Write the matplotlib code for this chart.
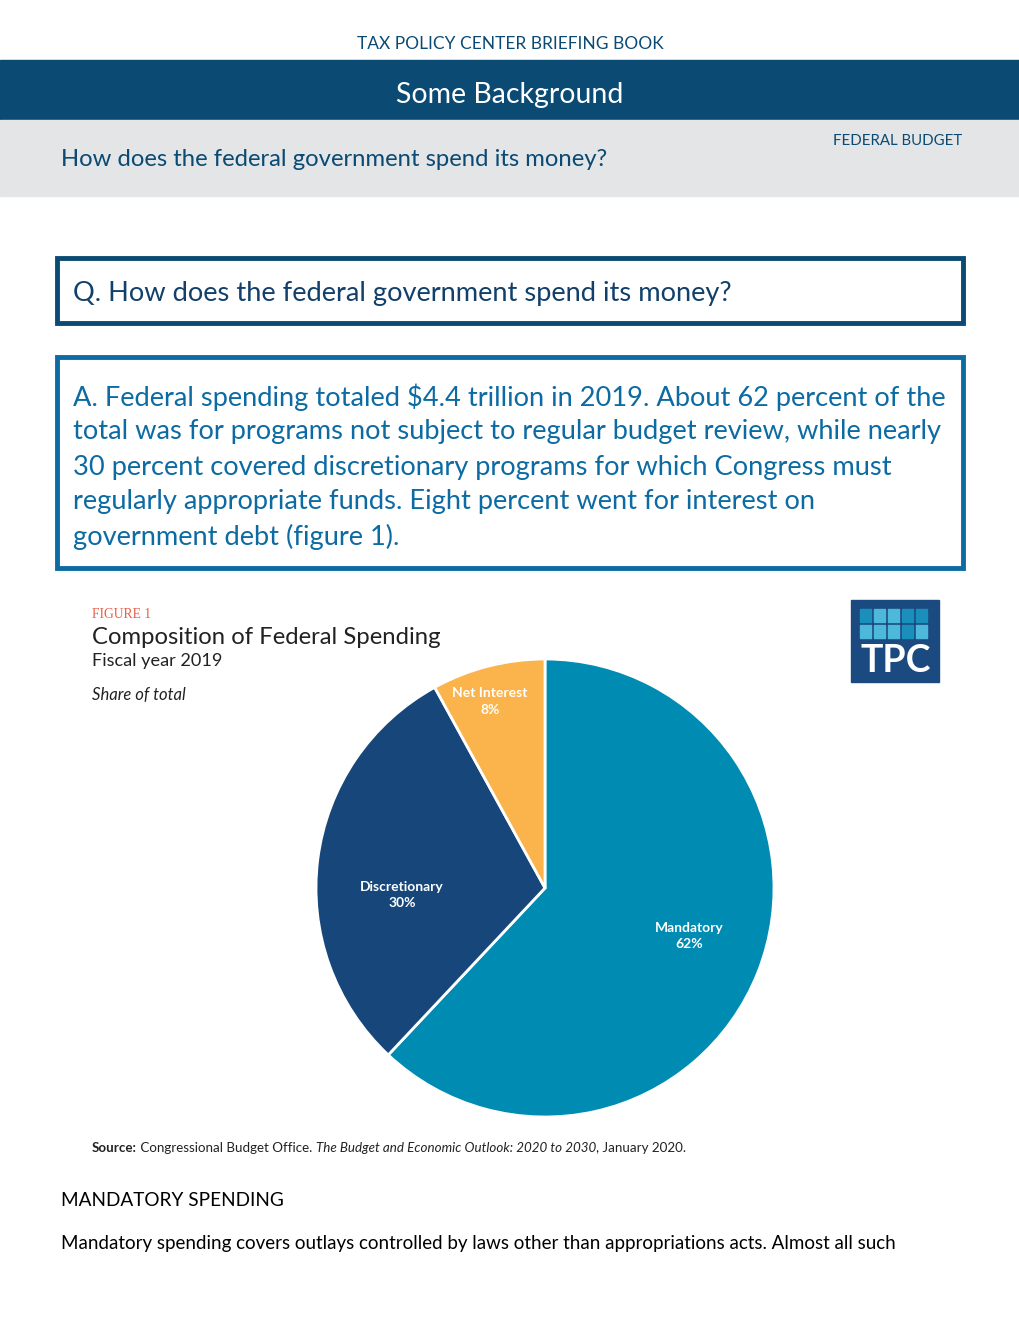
import matplotlib.pyplot as plt
from matplotlib.patches import Rectangle

# chart data
categories = ['Mandatory', 'Discretionary', 'Net Interest']
shares = [62, 30, 8]
colors = ['#008bb2', '#17477a', '#fbb34b']

answer_lines = [
    'A. Federal spending totaled $4.4 trillion in 2019. About 62 percent of the',
    'total was for programs not subject to regular budget review, while nearly',
    '30 percent covered discretionary programs for which Congress must',
    'regularly appropriate funds. Eight percent went for interest on',
    'government debt (figure 1).',
]

NAVY = '#0a4a73'
ABLUE = '#0c6ba3'
FONT = 'Lato'

W, H = 1020, 1320


def main():
    fig = plt.figure(figsize=(W / 100, H / 100), dpi=100)
    bg = fig.add_axes([0, 0, 1, 1])
    bg.set_xlim(0, W)
    bg.set_ylim(H, 0)
    bg.axis('off')

    # page header
    bg.text(510, 44, 'TAX POLICY CENTER BRIEFING BOOK', ha='center', va='center',
            fontsize=12.5, color=NAVY, family=FONT)
    bg.add_patch(Rectangle((0, 60), W, 60, color=NAVY))
    bg.text(510, 95, 'Some Background', ha='center', va='center',
            fontsize=20.5, color='white', family=FONT)
    bg.add_patch(Rectangle((0, 120), W, 76, color='#e4e5e7'))
    bg.text(61, 160, 'How does the federal government spend its money?',
            ha='left', va='center', fontsize=17.2, color=NAVY, family=FONT)
    bg.text(962, 141, 'FEDERAL BUDGET', ha='right', va='center',
            fontsize=10.8, color=NAVY, family=FONT)

    # question / answer boxes
    bg.add_patch(Rectangle((57, 258), 906, 65, fill=False, ec='#0b4a74', lw=3.5))
    bg.text(73, 293, 'Q. How does the federal government spend its money?',
            ha='left', va='center', fontsize=19.6, color='#12406a', family=FONT)
    bg.add_patch(Rectangle((57, 357), 906, 211, fill=False, ec=ABLUE, lw=3.5))
    for i, line in enumerate(answer_lines):
        bg.text(73, 397 + 35 * i, line, ha='left', va='center',
                fontsize=19.6, color=ABLUE, family=FONT)

    # figure heading
    bg.text(92, 614, 'FIGURE 1', ha='left', va='center', fontsize=9.8,
            color='#e8604c', family='Liberation Serif')
    bg.text(92, 637, 'Composition of Federal Spending', ha='left', va='center',
            fontsize=17.2, color='#222222', family=FONT)
    bg.text(92, 661, 'Fiscal year 2019', ha='left', va='center',
            fontsize=13.1, color='#222222', family=FONT)
    bg.text(92, 695, 'Share of total', ha='left', va='center',
            fontsize=12, color='#222222', family=FONT, style='italic')

    # TPC logo
    bg.add_patch(Rectangle((851, 600), 88, 82, color='#1b4a80'))
    sq_cols = [['#1a8fbb', '#4db8da', '#4db8da', '#1a8fbb', '#1a8fbb'],
               ['#4db8da', '#4db8da', '#4db8da', '#1a8fbb', '#4db8da']]
    for r in range(2):
        for c in range(5):
            bg.add_patch(Rectangle((860 + c * 14, 609 + r * 16), 11.5, 13,
                                   color=sq_cols[r][c]))
    bg.text(896, 661, 'TPC', ha='center', va='center', fontsize=27,
            fontweight='bold', color='white', family=FONT)

    # pie
    cx, cy, rad = 545, 888, 229
    pax = fig.add_axes([(cx - rad) / W, (H - cy - rad) / H, 2 * rad / W, 2 * rad / H])
    pax.pie(shares, colors=colors, startangle=90, counterclock=False,
            wedgeprops=dict(edgecolor='white', linewidth=2))
    pax.set_xlim(-1, 1)
    pax.set_ylim(-1, 1)
    pax.axis('off')
    label_pos = [(0.63, -0.21), (-0.625, -0.03), (-0.24, 0.815)]
    for name, val, (lx, ly) in zip(categories, shares, label_pos):
        pax.text(lx, ly, f'{name}\n{val}%', ha='center', va='center',
                 fontsize=10, fontweight='bold', color='white', family=FONT,
                 linespacing=1.45)

    # source line with mixed styles
    fig.canvas.draw()
    r = fig.canvas.get_renderer()
    x = 92
    parts = [('Source:', 'normal', 'bold'),
             (' Congressional Budget Office. ', 'normal', 'normal'),
             ('The Budget and Economic Outlook: 2020 to 2030', 'italic', 'normal'),
             (', January 2020.', 'normal', 'normal')]
    for txt, st, wt in parts:
        t = bg.text(x, 1148, txt, ha='left', va='center', fontsize=9.6,
                    color='#222222', family=FONT, style=st, fontweight=wt)
        bb = t.get_window_extent(renderer=r)
        x += bb.width

    # body text
    bg.text(61, 1201, 'MANDATORY SPENDING', ha='left', va='center',
            fontsize=13.7, color='black', family=FONT)
    bg.text(61, 1244, 'Mandatory spending covers outlays controlled by laws other '
            'than appropriations acts. Almost all such', ha='left', va='center',
            fontsize=13.5, color='black', family=FONT)

    fig.savefig('out.png', dpi=100)


if __name__ == "__main__":
    main()
